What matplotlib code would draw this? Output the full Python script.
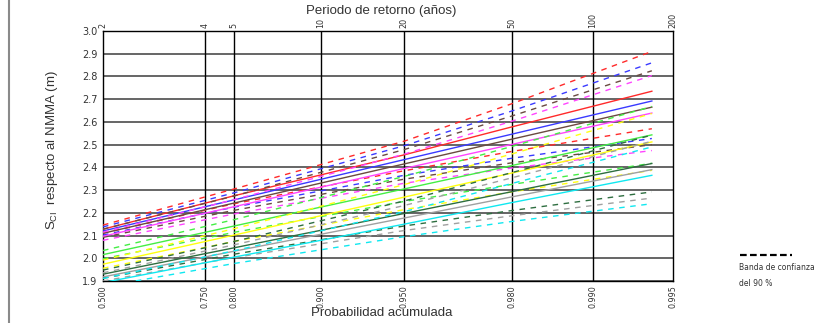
import numpy as np
import matplotlib
matplotlib.use('Agg')
import matplotlib.pyplot as plt
from matplotlib.lines import Line2D

plt.rcParams['font.family'] = ['Liberation Sans Narrow', 'DejaVu Sans']

# probability ticks (bottom) and return periods (top)
prob_ticks = [0.500, 0.750, 0.800, 0.900, 0.950, 0.980, 0.990, 0.995]
prob_labels = ['0.500', '0.750', '0.800', '0.900', '0.950', '0.980', '0.990', '0.995']
period_labels = ['2', '4', '5', '10', '20', '50', '100', '200']

p_read = [0.500, 0.800, 0.950, 0.980, 0.994]

# central fit, upper and lower 90 % bands per station colour
red_c = [2.128, 2.275, 2.455, 2.578, 2.735]
red_u = [2.146, 2.305, 2.515, 2.680, 2.910]
red_l = [2.110, 2.240, 2.385, 2.470, 2.570]
blue_c = [2.120, 2.257, 2.434, 2.546, 2.692]
blue_u = [2.138, 2.288, 2.495, 2.648, 2.860]
blue_l = [2.102, 2.225, 2.365, 2.440, 2.527]
brown_c = [2.110, 2.243, 2.415, 2.524, 2.665]
brown_u = [2.128, 2.274, 2.478, 2.626, 2.825]
brown_l = [2.092, 2.211, 2.348, 2.420, 2.500]
mag_c = [2.097, 2.227, 2.395, 2.501, 2.639]
mag_u = [2.115, 2.258, 2.458, 2.603, 2.804]
mag_l = [2.079, 2.195, 2.330, 2.397, 2.474]
green_c = [2.016, 2.142, 2.305, 2.408, 2.543]
green_u = [2.034, 2.170, 2.360, 2.492, 2.668]
green_l = [1.998, 2.114, 2.250, 2.325, 2.418]
yel_c = [1.974, 2.102, 2.269, 2.375, 2.512]
yel_u = [1.992, 2.130, 2.324, 2.459, 2.637]
yel_l = [1.956, 2.074, 2.214, 2.292, 2.387]
dgreen_c = [1.930, 2.046, 2.197, 2.293, 2.417]
dgreen_u = [1.948, 2.074, 2.252, 2.377, 2.542]
dgreen_l = [1.912, 2.018, 2.142, 2.210, 2.292]
gray_c = [1.918, 2.031, 2.177, 2.270, 2.390]
gray_u = [1.936, 2.059, 2.232, 2.354, 2.515]
gray_l = [1.900, 2.003, 2.122, 2.187, 2.265]
cyan_c = [1.893, 2.005, 2.150, 2.245, 2.365]
cyan_u = [1.911, 2.033, 2.205, 2.329, 2.490]
cyan_l = [1.875, 1.977, 2.095, 2.162, 2.240]

stations = [
    ('#ff2a2a', red_c, red_u, red_l),
    ('#3a3aff', blue_c, blue_u, blue_l),
    ('#6a4a40', brown_c, brown_u, brown_l),
    ('#ff44ff', mag_c, mag_u, mag_l),
    ('#44ee44', green_c, green_u, green_l),
    ('#ffff10', yel_c, yel_u, yel_l),
    ('#2e6e40', dgreen_c, dgreen_u, dgreen_l),
    ('#a0a0a0', gray_c, gray_u, gray_l),
    ('#10e8f0', cyan_c, cyan_u, cyan_l),
]


def gumbel(p):
    p = np.asarray(p, dtype=float)
    return -np.log(-np.log(p))


W, H = 818, 323
fig = plt.figure(figsize=(W / 100, H / 100), dpi=100)
ax = fig.add_axes([103 / W, 1 - 281 / H, 570 / W, 250 / H])

xr = gumbel(p_read)
for col, c, u, l in stations:
    ax.plot(xr, c, color=col, lw=1.0, zorder=3)
    ax.plot(xr, u, color=col, lw=1.0, ls=(0, (4, 4)), zorder=3)
    ax.plot(xr, l, color=col, lw=1.0, ls=(0, (4, 4)), zorder=3)

ax.set_xlim(gumbel(0.5), gumbel(0.995))
ax.set_ylim(1.9, 3.0)

# grid
for yv in np.arange(1.9, 3.01, 0.1):
    ax.axhline(yv, color='#3c3c3c', lw=1.1, zorder=1)
for pv in prob_ticks[1:-1]:
    ax.axvline(gumbel(pv), color='black', lw=1.0, zorder=1)

ax.set_xticks(gumbel(prob_ticks))
ax.set_xticklabels(prob_labels, rotation=90, fontsize=5.8, color='#333333')
ax.set_yticks(np.arange(1.9, 3.01, 0.1))
ax.set_yticklabels(['%.1f' % v for v in np.arange(1.9, 3.01, 0.1)],
                   fontsize=7, color='#333333')
ax.tick_params(axis='y', length=0, pad=4)
ax.tick_params(axis='x', length=0, pad=3)

top = ax.secondary_xaxis('top')
top.set_xticks(gumbel(prob_ticks))
top.set_xticklabels(period_labels, rotation=90, fontsize=5.8, color='#333333')
top.tick_params(length=0, pad=2)
top.spines['top'].set_visible(False)

for s in ax.spines.values():
    s.set_color('black')
    s.set_linewidth(1.0)

lab = dict(fontsize=9.5, color='#333333', family=['Liberation Sans', 'DejaVu Sans'])
fig.text(382 / W, 1 - 313 / H, 'Probabilidad acumulada', ha='center', va='center', **lab)
fig.text(381 / W, 1 - 11 / H, 'Periodo de retorno (años)', ha='center', va='center', **lab)
fig.text(52 / W, 1 - 150 / H, r'S$_{\mathregular{CI}}$  respecto al NMMA (m)',
         rotation=90, ha='center', va='center', **lab)

# page border line on the left
fig.add_artist(Line2D([9 / W, 9 / W], [0, 1], color='#8a8a8a', lw=1.5))

# legend for the band
fig.add_artist(Line2D([740 / W, 792 / W], [1 - 255 / H, 1 - 255 / H],
                      color='black', lw=1.6, ls=(0, (3, 1.5))))
fig.text(739 / W, 1 - 268 / H, 'Banda de confianza', fontsize=5.5,
         color='#333333', va='center', ha='left')
fig.text(739 / W, 1 - 284 / H, 'del 90 %', fontsize=5.5,
         color='#333333', va='center', ha='left')

fig.savefig('out.png', dpi=100)
